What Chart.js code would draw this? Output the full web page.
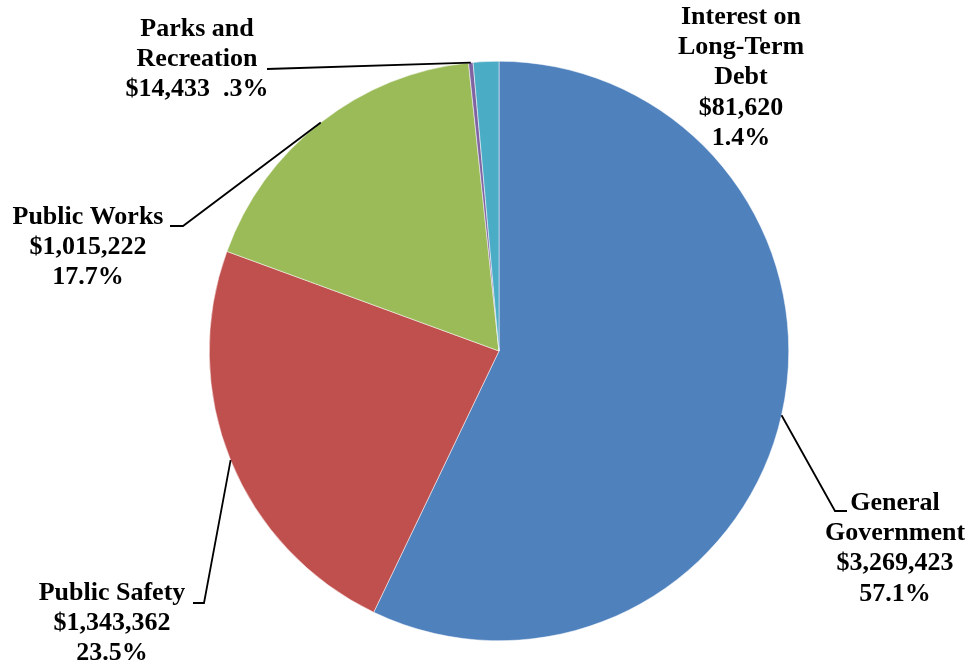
<!DOCTYPE html>
<html>
<head>
<meta charset="utf-8">
<script src="https://cdn.jsdelivr.net/npm/chart.js"></script>
<style>
  html, body { margin: 0; padding: 0; background: #fff; }
  #wrap { width: 972px; height: 668px; }
</style>
</head>
<body>
<div id="wrap"><canvas id="myChart" width="972" height="668"></canvas></div>
<script>
// data
const categories = ['General Government', 'Public Safety', 'Public Works', 'Parks and Recreation', 'Interest on Long-Term Debt'];
const values = [3269423, 1343362, 1015222, 14433, 81620];
const percents = ['57.1%', '23.5%', '17.7%', '.3%', '1.4%'];
const nameLines = [
    ['General', 'Government'],
    ['Public Safety'],
    ['Public Works'],
    ['Parks and', 'Recreation'],
    ['Interest on', 'Long-Term', 'Debt']
];
const colors = ['#4F81BD', '#C0504D', '#9BBB59', '#8064A2', '#4BACC6'];

// where each label sits, and where its leader line bends
const labelLayout = [
    { x: 895, y: 503, elbow: [835, 511], end: [847, 511] },
    { x: 112, y: 593, elbow: [204, 603], end: [193, 603] },
    { x: 88, y: 217, elbow: [183, 226], end: [170, 226] },
    { x: 197, y: 29, sameLine: true, elbow: null, end: [267, 69] },
    { x: 741, y: 17, elbow: null, end: null }
];
const lineH = 30.3;

const pieLabels = {
    id: 'pieLabels',
    afterDraw(chart) {
        const c = chart.ctx;
        const arcs = chart.getDatasetMeta(0).data;
        c.save();
        c.strokeStyle = '#000';
        c.lineWidth = 1.8;
        arcs.forEach((arc, i) => {
            const L = labelLayout[i];
            if (!L.end) return;
            const mid = (arc.startAngle + arc.endAngle) / 2;
            const px = arc.x + Math.cos(mid) * arc.outerRadius;
            const py = arc.y + Math.sin(mid) * arc.outerRadius;
            c.beginPath();
            c.moveTo(px, py);
            if (L.elbow) c.lineTo(L.elbow[0], L.elbow[1]);
            c.lineTo(L.end[0], L.end[1]);
            c.stroke();
        });
        c.fillStyle = '#000';
        c.font = 'bold 26px "Liberation Serif", "Times New Roman", serif';
        c.textAlign = 'center';
        c.textBaseline = 'middle';
        arcs.forEach((arc, i) => {
            const L = labelLayout[i];
            const money = '$' + values[i].toLocaleString('en-US');
            let lines = nameLines[i].slice();
            if (L.sameLine) lines.push(money + '  ' + percents[i]);
            else lines.push(money, percents[i]);
            lines.forEach((t, k) => c.fillText(t, L.x, L.y + k * lineH));
        });
        c.restore();
    }
};

const ctx = document.getElementById('myChart').getContext('2d');
const myChart = new Chart(ctx, {
    type: 'pie',
    data: {
        labels: categories,
        datasets: [{
            data: values,
            backgroundColor: colors,
            borderColor: '#fff',
            borderWidth: 0.5
        }]
    },
    options: {
        responsive: false,
        animation: false,
        layout: { padding: { left: 209, right: 183, top: 61, bottom: 27 } },
        plugins: {
            legend: { display: false },
            tooltip: { enabled: false }
        }
    },
    plugins: [pieLabels]
});
</script>
</body>
</html>
